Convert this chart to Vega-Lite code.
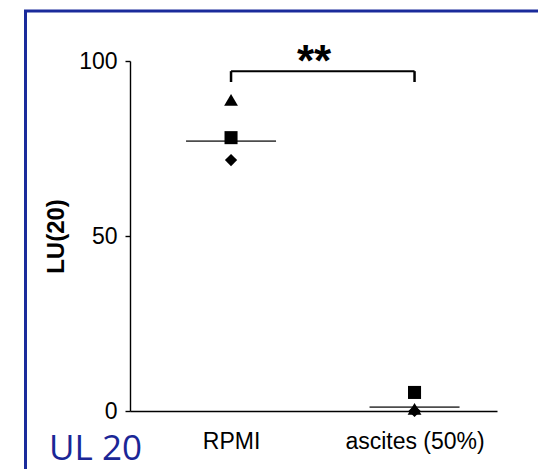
{
  "$schema": "https://vega.github.io/schema/vega-lite/v6.json",
  "autosize": "none",
  "width": 516.5,
  "height": 462,
  "padding": {"left": 25.5, "top": 11, "right": -4, "bottom": -4},
  "background": "white",
  "title": {
    "text": "UL 20",
    "orient": "bottom",
    "anchor": "start",
    "frame": "group",
    "offset": -41,
    "dx": 23.5,
    "font": "Open Sans",
    "fontSize": 35,
    "fontWeight": "normal",
    "color": "#1a2696"
  },
  "config": {
    "view": {"stroke": "#1a2b9b", "strokeWidth": 3},
    "font": "Liberation Sans"
  },
  "datasets": {
    "points": [
      {"condition": "RPMI", "marker": "diamond", "LU20": 71.7},
      {"condition": "RPMI", "marker": "square", "LU20": 78.1},
      {"condition": "RPMI", "marker": "triangle", "LU20": 88.9},
      {"condition": "ascites (50%)", "marker": "diamond", "LU20": 0.0},
      {"condition": "ascites (50%)", "marker": "square", "LU20": 5.3},
      {"condition": "ascites (50%)", "marker": "triangle", "LU20": 0.6}
    ],
    "means": [
      {"condition": "RPMI", "mean": 77.1},
      {"condition": "ascites (50%)", "mean": 1.1}
    ],
    "bracket": [
      {"from": "RPMI", "to": "ascites (50%)", "top": 97.1, "bottom": 94.0, "label": "**", "labelY": 95.6}
    ]
  },
  "encoding": {
    "x": {
      "field": "condition",
      "type": "nominal",
      "scale": {
        "type": "point",
        "domain": ["RPMI", "ascites (50%)"],
        "range": [104.5, 471.5],
        "paddingOuter": 0.471,
        "align": 0.5506
      },
      "axis": {
        "orient": "bottom",
        "offset": -62,
        "title": null,
        "ticks": false,
        "labelAngle": 0,
        "labelFontSize": 23,
        "labelColor": "black",
        "labelPadding": 19,
        "domainColor": "black",
        "domainWidth": 1.4,
        "grid": false
      }
    }
  },
  "layer": [
    {
      "data": {"name": "means"},
      "mark": {"type": "tick", "orient": "horizontal", "size": 90, "thickness": 1.8, "color": "black"},
      "encoding": {
        "y": {
          "field": "mean",
          "type": "quantitative",
          "scale": {"domain": [0, 100], "range": [400, 50], "nice": false, "zero": false},
          "axis": {
            "orient": "left",
            "offset": -104.5,
            "values": [0, 50, 100],
            "title": "LU(20)",
            "titleFontSize": 24,
            "titleFontWeight": "bold",
            "titleColor": "black",
            "titlePadding": 10,
            "labelFontSize": 23,
            "labelColor": "black",
            "labelPadding": 8,
            "tickSize": 5,
            "tickColor": "black",
            "tickWidth": 1.4,
            "domainColor": "black",
            "domainWidth": 1.4,
            "grid": false
          }
        }
      }
    },
    {
      "data": {"name": "points"},
      "mark": {"type": "point", "filled": true, "opacity": 1, "color": "black"},
      "encoding": {
        "y": {"field": "LU20", "type": "quantitative"},
        "shape": {
          "field": "marker",
          "type": "nominal",
          "scale": {"domain": ["triangle", "square", "diamond"], "range": ["triangle-up", "square", "diamond"]},
          "legend": null
        },
        "size": {
          "field": "marker",
          "type": "nominal",
          "scale": {"domain": ["triangle", "square", "diamond"], "range": [190, 150, 160]},
          "legend": null
        }
      }
    },
    {
      "data": {"name": "bracket"},
      "mark": {"type": "rule", "color": "black", "strokeWidth": 2},
      "encoding": {
        "x": {"field": "from", "type": "nominal"},
        "x2": {"field": "to"},
        "y": {"field": "top", "type": "quantitative"}
      }
    },
    {
      "data": {"name": "bracket"},
      "mark": {"type": "rule", "color": "black", "strokeWidth": 2.5},
      "encoding": {
        "x": {"field": "from", "type": "nominal"},
        "y": {"field": "bottom", "type": "quantitative"},
        "y2": {"field": "top"}
      }
    },
    {
      "data": {"name": "bracket"},
      "mark": {"type": "rule", "color": "black", "strokeWidth": 2.5},
      "encoding": {
        "x": {"field": "to", "type": "nominal"},
        "y": {"field": "bottom", "type": "quantitative"},
        "y2": {"field": "top"}
      }
    },
    {
      "data": {"name": "bracket"},
      "mark": {"type": "text", "dx": 83, "align": "center", "baseline": "alphabetic", "fontSize": 44, "fontWeight": "bold", "color": "black"},
      "encoding": {
        "x": {"field": "from", "type": "nominal"},
        "y": {"field": "labelY", "type": "quantitative"},
        "text": {"field": "label"}
      }
    }
  ]
}
